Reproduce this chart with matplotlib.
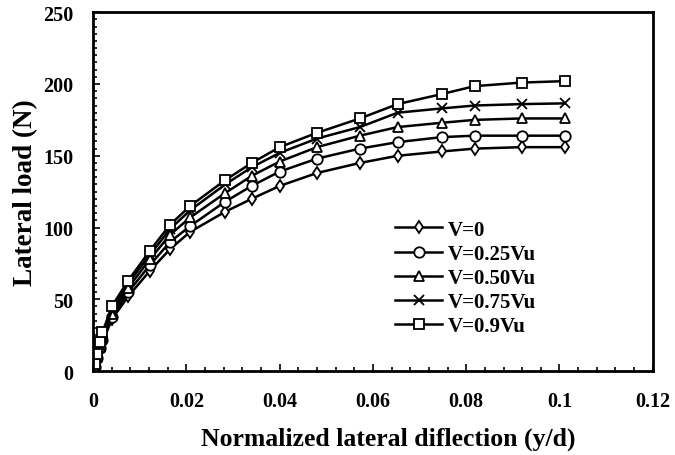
import matplotlib
matplotlib.use("Agg")
import matplotlib.pyplot as plt
from matplotlib.ticker import MultipleLocator

plt.rcParams['font.family'] = ['Liberation Serif', 'DejaVu Serif']
plt.rcParams['font.weight'] = 'bold'

# normalized deflection (y/d), shared by all series
defl = [0, 0.0003, 0.0008, 0.0015, 0.002, 0.004, 0.0075, 0.0122, 0.0165, 0.0208,
        0.0283, 0.034, 0.040, 0.048, 0.0572, 0.0653, 0.0748, 0.0818, 0.0919, 0.1011]

load_v0 = [0, 3, 8, 15, 20, 36, 52, 70, 85, 97,
           111, 120, 129, 138, 145, 150, 153, 155, 156, 156]
load_v025 = [0, 3, 9, 16, 22, 38, 55, 74, 90, 101,
             118, 129, 139, 148, 155, 159.5, 163, 164, 164, 164]
load_v050 = [0, 4, 10, 17, 24, 40, 58, 78, 95, 107,
             124, 136, 146, 156, 164, 170, 173, 175, 176, 176]
load_v075 = [0, 4, 11, 18, 25, 42, 61, 81, 99, 112,
             130, 142, 152, 162, 170, 180, 183, 185, 186, 186.5]
load_v090 = [0, 5, 12, 20, 27, 45, 63, 84, 102, 115,
             133, 145, 156, 166, 176, 186, 193, 198.5, 201, 202]

labels = ["V=0", "V=0.25Vu", "V=0.50Vu", "V=0.75Vu", "V=0.9Vu"]
markers = ["d", "o", "^", "x", "s"]
series = [load_v0, load_v025, load_v050, load_v075, load_v090]

fig = plt.figure(figsize=(6.75, 4.56), dpi=100)
ax = fig.add_axes([0.138, 0.184, 0.829, 0.787])

for vals, lab, mk in zip(series, labels, markers):
    ax.plot(defl, vals, color="black", lw=1.8, marker=mk, markersize=7.5 if mk != "d" else 6.5,
            markerfacecolor="white", markeredgecolor="black", markeredgewidth=1.3,
            label=lab)

ax.set_xlim(0, 0.12)
ax.set_ylim(0, 250)
ax.xaxis.set_minor_locator(MultipleLocator(0.004))
ax.yaxis.set_major_locator(MultipleLocator(50))
ax.yaxis.set_minor_locator(MultipleLocator(5))
ax.set_xticks([0, 0.02, 0.04, 0.06, 0.08, 0.1, 0.12])
ax.set_xticklabels(["0", "0.02", "0.04", "0.06", "0.08", "0.1", "0.12"])

ax.tick_params(which="both", direction="in", top=False, right=False, width=1.2)
ax.tick_params(which="major", length=5, labelsize=14.5, pad=14)
ax.tick_params(which="minor", length=3)
for lab in ax.get_xticklabels() + ax.get_yticklabels():
    lab.set_fontweight("bold")
for sp in ax.spines.values():
    sp.set_linewidth(2)

ax.set_xlabel("Normalized lateral diflection (y/d)", fontsize=18.5, fontweight="bold", labelpad=12)
ax.set_ylabel("Lateral load (N)", fontsize=19.5, fontweight="bold", labelpad=4)
ax.xaxis.set_label_coords(0.528, -0.155)

ax.legend(loc="upper left", bbox_to_anchor=(0.525, 0.445), frameon=False,
          prop={"size": 15, "weight": "bold"}, handlelength=2.25,
          handletextpad=0.25, labelspacing=0.2, borderaxespad=0)

fig.savefig("out.png", dpi=100)
